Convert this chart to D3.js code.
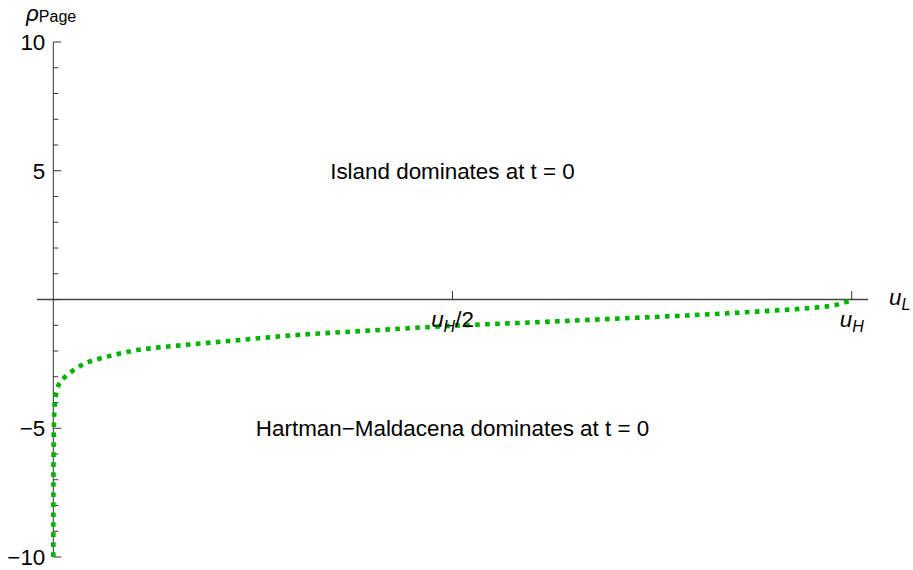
<!DOCTYPE html>
<html>
<head>
<meta charset="utf-8">
<script src="https://cdn.jsdelivr.net/npm/d3@7"></script>
<style>
  html, body { margin: 0; padding: 0; background: #fff; }
  svg { display: block; font-family: "Liberation Sans", Arial, sans-serif; }
</style>
</head>
<body>
<svg id="chart" width="913" height="570"></svg>
<script>
// ---- data ----
const uL = [0, 0.0001, 0.0003, 0.0007, 0.0012, 0.002, 0.003, 0.0045, 0.007, 0.01, 0.015, 0.02, 0.03, 0.04, 0.055, 0.075, 0.1, 0.13, 0.17, 0.22, 0.3, 0.4, 0.5, 0.6, 0.7, 0.8, 0.88, 0.94, 0.98, 0.997];
const rhoPage = [-10, -7.5, -6, -5, -4.4, -4.0, -3.75, -3.5, -3.3, -3.15, -3.0, -2.87, -2.65, -2.48, -2.32, -2.16, -1.99, -1.87, -1.75, -1.61, -1.39, -1.2, -1.02, -0.89, -0.75, -0.61, -0.47, -0.35, -0.21, -0.06];
const yMajorTicks = [-10, -5, 5, 10];
const yMajorLabels = ["\u221210", "\u22125", "5", "10"];
const yMinorTicks = d3.range(-10, 11, 1).filter(v => v % 5 !== 0);
const xTicks = [0.5, 1];
const xTickLabels = [["u", "H", "/2"], ["u", "H", ""]];
const regionLabels = [
  { text: "Island dominates at t = 0", u: 0.5, rho: 5 },
  { text: "Hartman\u2212Maldacena dominates at t = 0", u: 0.5, rho: -5 }
];

// ---- scales ----
const svg = d3.select("#chart");
const x = d3.scaleLinear().domain([0, 1]).range([53.3, 851.7]);
const y = d3.scaleLinear().domain([-10, 10]).range([557, 42]);
const xExt = [-0.0205, 1.0206];

const fs = 22.4;
const fsSub = 16;
const axisColor = "#333";

// x axis line
svg.append("line")
  .attr("x1", x(xExt[0])).attr("x2", x(xExt[1]))
  .attr("y1", y(0)).attr("y2", y(0))
  .attr("stroke", "#444").attr("stroke-width", 1.3);

// y axis line
svg.append("line")
  .attr("x1", x(0)).attr("x2", x(0))
  .attr("y1", y(-10)).attr("y2", y(10))
  .attr("stroke", axisColor).attr("stroke-width", 1);

// y ticks
svg.selectAll(".ymaj").data(yMajorTicks.concat([0])).enter().append("line")
  .attr("x1", x(0)).attr("x2", x(0) + 8)
  .attr("y1", d => y(d)).attr("y2", d => y(d))
  .attr("stroke", axisColor).attr("stroke-width", 1);
svg.selectAll(".ymin").data(yMinorTicks).enter().append("line")
  .attr("x1", x(0)).attr("x2", x(0) + 5)
  .attr("y1", d => y(d)).attr("y2", d => y(d))
  .attr("stroke", axisColor).attr("stroke-width", 1);

// x ticks
svg.selectAll(".xt").data(xTicks).enter().append("line")
  .attr("x1", d => x(d)).attr("x2", d => x(d))
  .attr("y1", y(0)).attr("y2", y(0) - 8.5)
  .attr("stroke", axisColor).attr("stroke-width", 1);

// curve
const pts = uL.map((u, i) => [u, rhoPage[i]]);
const line = d3.line().x(d => x(d[0])).y(d => y(d[1])).curve(d3.curveMonotoneX);
svg.append("path")
  .attr("d", line(pts))
  .attr("fill", "none")
  .attr("stroke", "#00b300")
  .attr("stroke-width", 4.6)
  .attr("stroke-dasharray", "4.6 5.4")
  .attr("stroke-linecap", "butt");

// y tick labels
svg.selectAll(".yl").data(yMajorTicks).enter().append("text")
  .attr("x", x(0) - 8)
  .attr("y", d => y(d))
  .attr("dy", "0.36em")
  .attr("text-anchor", "end")
  .attr("font-size", fs)
  .attr("fill", "#000")
  .text((d, i) => yMajorLabels[i]);

// x tick labels
xTicks.forEach((v, i) => {
  const lab = xTickLabels[i];
  const t = svg.append("text")
    .attr("x", x(v)).attr("y", y(0) + 27)
    .attr("text-anchor", "middle")
    .attr("font-size", fs).attr("fill", "#000");
  t.append("tspan").attr("font-style", "italic").text(lab[0]);
  t.append("tspan").attr("font-style", "italic").attr("font-size", fsSub).attr("dy", 5).text(lab[1]);
  if (lab[2]) t.append("tspan").attr("dy", -5).text(lab[2]);
});

// axis labels
const yl = svg.append("text").attr("x", 26).attr("y", 21).attr("font-size", fs).attr("fill", "#000");
yl.append("tspan").attr("font-style", "italic").text("\u03C1");
yl.append("tspan").attr("font-size", fsSub).attr("dy", 1).text("Page");

const xl = svg.append("text").attr("x", 889).attr("y", 305).attr("font-size", fs).attr("fill", "#000");
xl.append("tspan").attr("font-style", "italic").text("u");
xl.append("tspan").attr("font-style", "italic").attr("font-size", fsSub).attr("dy", 5).text("L");

// region labels
svg.selectAll(".rl").data(regionLabels).enter().append("text")
  .attr("x", d => x(d.u)).attr("y", d => y(d.rho))
  .attr("dy", "0.36em")
  .attr("text-anchor", "middle")
  .attr("font-size", fs).attr("fill", "#000")
  .text(d => d.text);
</script>
</body>
</html>
